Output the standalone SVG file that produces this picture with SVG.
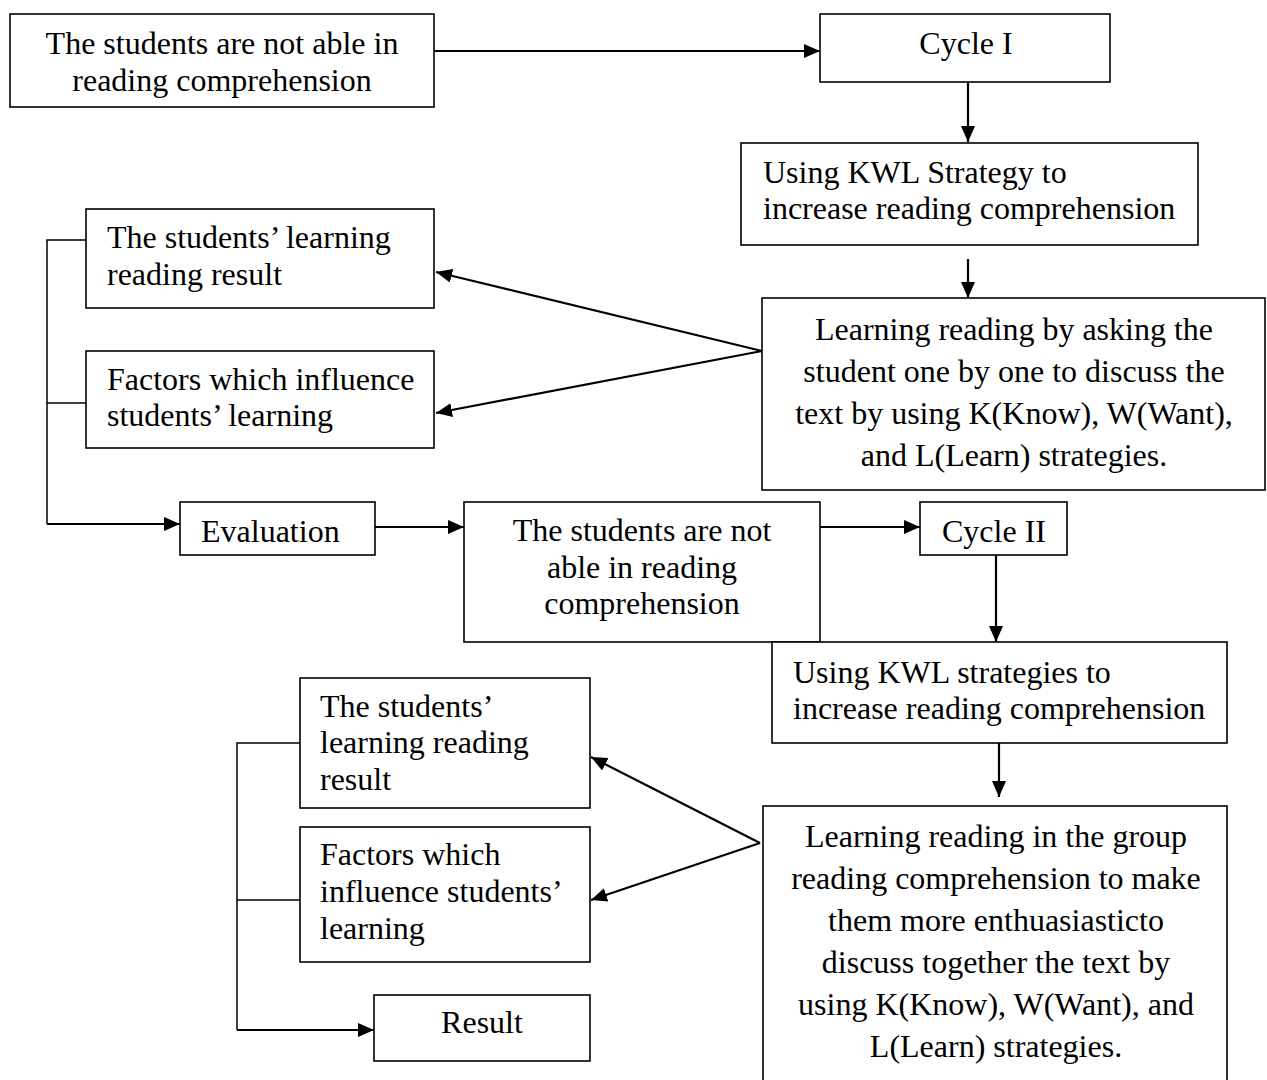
<svg xmlns="http://www.w3.org/2000/svg" width="1267" height="1080" viewBox="0 0 1267 1080">
<style>
.box{fill:#fff;stroke:#000;stroke-width:1.6}
.t{font-family:"Liberation Serif","Times New Roman",serif;font-size:32px;fill:#000}
.c{text-anchor:middle}
.ln{fill:none;stroke:#000;stroke-width:2.2}
.br{fill:none;stroke:#000;stroke-width:1.5}
</style>
<defs>
<marker id="ah" markerUnits="userSpaceOnUse" markerWidth="17" markerHeight="15" refX="16" refY="7" orient="auto">
<path d="M0,0 L16,7 L0,14 Z" fill="#000"/>
</marker>
</defs>
<rect width="1267" height="1080" fill="#fff"/>
<g id="connectors">
<line class="ln" x1="434" y1="51" x2="820" y2="51" marker-end="url(#ah)"/>
<line class="ln" x1="968" y1="82" x2="968" y2="142" marker-end="url(#ah)"/>
<line class="ln" x1="968" y1="259" x2="968" y2="298" marker-end="url(#ah)"/>
<line class="ln" x1="762" y1="351" x2="436" y2="272" marker-end="url(#ah)"/>
<line class="ln" x1="762" y1="351" x2="436" y2="413" marker-end="url(#ah)"/>
<polyline class="br" points="86,240 47,240 47,524"/>
<line class="br" x1="47" y1="403" x2="86" y2="403"/>
<line class="ln" x1="47" y1="524" x2="180" y2="524" marker-end="url(#ah)"/>
<line class="ln" x1="375" y1="527" x2="464" y2="527" marker-end="url(#ah)"/>
<line class="ln" x1="820" y1="527" x2="920" y2="527" marker-end="url(#ah)"/>
<line class="ln" x1="996" y1="555" x2="996" y2="642" marker-end="url(#ah)"/>
<line class="ln" x1="999" y1="743" x2="999" y2="797" marker-end="url(#ah)"/>
<line class="ln" x1="760" y1="843" x2="591" y2="757" marker-end="url(#ah)"/>
<line class="ln" x1="760" y1="843" x2="591" y2="900" marker-end="url(#ah)"/>
<polyline class="br" points="300,743 237,743 237,1030"/>
<line class="br" x1="237" y1="900" x2="300" y2="900"/>
<line class="ln" x1="237" y1="1030" x2="374" y2="1030" marker-end="url(#ah)"/>
</g>
<g id="n1"><rect class="box" x="10" y="14" width="424" height="93"/>
<text class="t c" x="222" y="54">The students are not able in</text>
<text class="t c" x="222" y="91">reading comprehension</text></g>
<g id="n2"><rect class="box" x="820" y="14" width="290" height="68"/>
<text class="t c" x="966" y="54">Cycle I</text></g>
<g id="n3"><rect class="box" x="741" y="143" width="457" height="102"/>
<text class="t" x="763" y="183">Using KWL Strategy to</text>
<text class="t" x="763" y="219">increase reading comprehension</text></g>
<g id="n4"><rect class="box" x="762" y="298" width="503" height="192"/>
<text class="t c" x="1014" y="340">Learning reading by asking the</text>
<text class="t c" x="1014" y="382">student one by one to discuss the</text>
<text class="t c" x="1014" y="424">text by using K(Know), W(Want),</text>
<text class="t c" x="1014" y="466">and L(Learn) strategies.</text></g>
<g id="n5"><rect class="box" x="86" y="209" width="348" height="99"/>
<text class="t" x="107" y="248">The students’ learning</text>
<text class="t" x="107" y="285">reading result</text></g>
<g id="n6"><rect class="box" x="86" y="351" width="348" height="97"/>
<text class="t" x="107" y="390">Factors which influence</text>
<text class="t" x="107" y="426">students’ learning</text></g>
<g id="n7"><rect class="box" x="180" y="502" width="195" height="53"/>
<text class="t" x="201" y="542">Evaluation</text></g>
<g id="n8"><rect class="box" x="464" y="502" width="356" height="140"/>
<text class="t c" x="642" y="541">The students are not</text>
<text class="t c" x="642" y="578">able in reading</text>
<text class="t c" x="642" y="614">comprehension</text></g>
<g id="n9"><rect class="box" x="920" y="502" width="147" height="53"/>
<text class="t c" x="994" y="542">Cycle II</text></g>
<g id="n10"><rect class="box" x="772" y="642" width="455" height="101"/>
<text class="t" x="793" y="683">Using KWL strategies to</text>
<text class="t" x="793" y="719">increase reading comprehension</text></g>
<g id="n11"><rect class="box" x="763" y="806" width="464" height="290"/>
<text class="t c" x="996" y="847">Learning reading in the group</text>
<text class="t c" x="996" y="889">reading comprehension to make</text>
<text class="t c" x="996" y="931">them more enthuasiasticto</text>
<text class="t c" x="996" y="973">discuss together the text by</text>
<text class="t c" x="996" y="1015">using K(Know), W(Want), and</text>
<text class="t c" x="996" y="1057">L(Learn) strategies.</text></g>
<g id="n12"><rect class="box" x="300" y="678" width="290" height="130"/>
<text class="t" x="320" y="717">The students’</text>
<text class="t" x="320" y="753">learning reading</text>
<text class="t" x="320" y="790">result</text></g>
<g id="n13"><rect class="box" x="300" y="827" width="290" height="135"/>
<text class="t" x="320" y="865">Factors which</text>
<text class="t" x="320" y="902">influence students’</text>
<text class="t" x="320" y="939">learning</text></g>
<g id="n14"><rect class="box" x="374" y="995" width="216" height="66"/>
<text class="t c" x="482" y="1033">Result</text></g>
</svg>
